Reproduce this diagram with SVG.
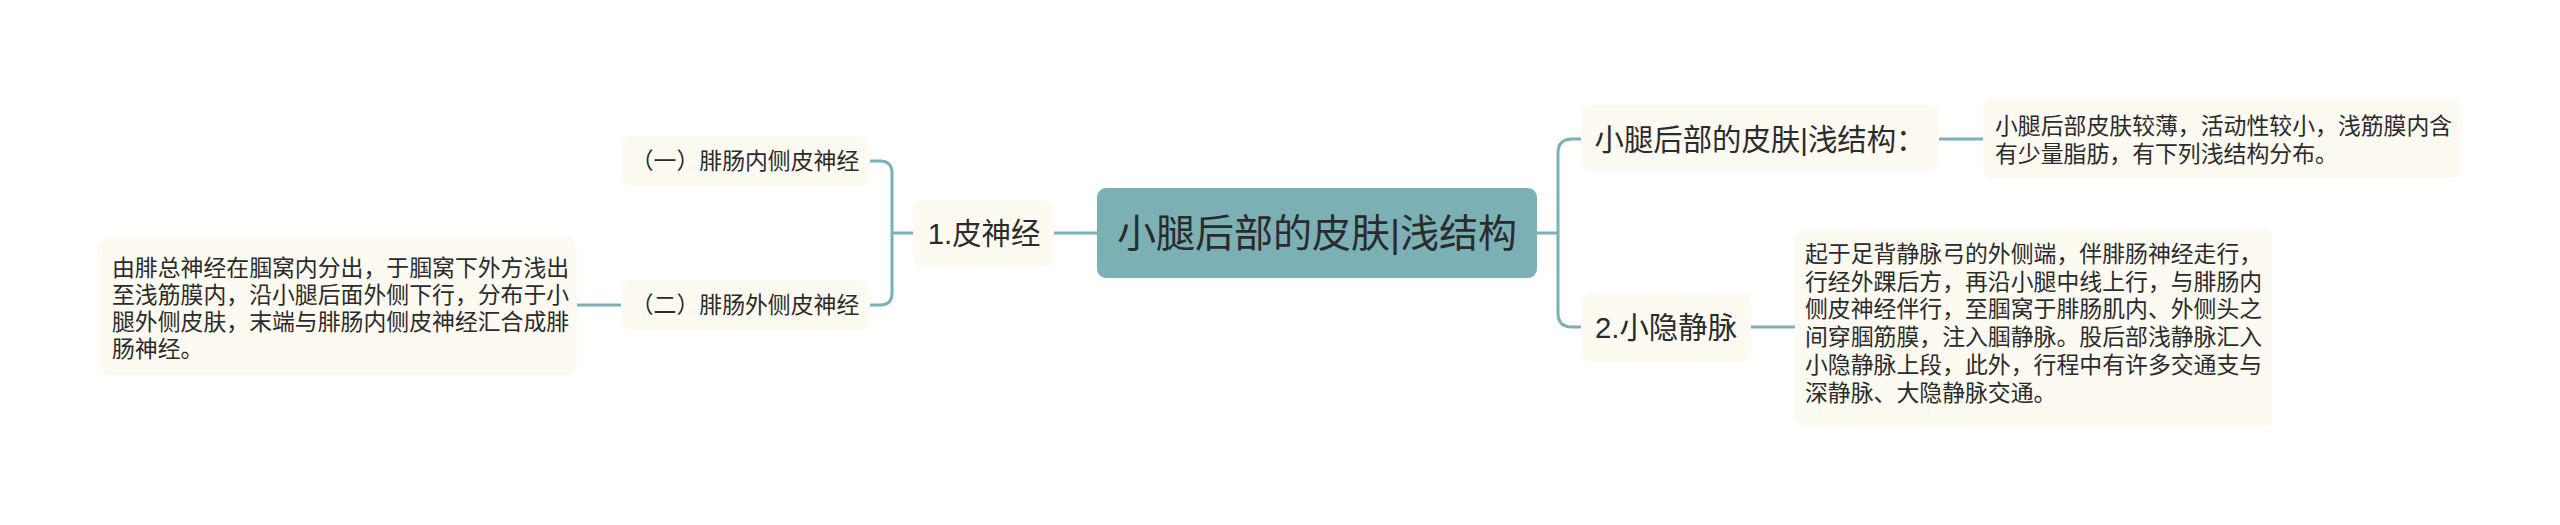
<svg xmlns="http://www.w3.org/2000/svg" width="2560" height="525" viewBox="0 0 2560 525">
<style>
text{font-family:"Liberation Sans","Noto Sans CJK SC",sans-serif;fill:#2b2b2b;dominant-baseline:central}
.box{fill:#fcfaf1}
.root{fill:#7bb1b4}
.l1{font-size:39px;text-anchor:middle}
.l2{font-size:29.4px;text-anchor:middle}
.l3{font-size:22.86px;text-anchor:middle}
.d{font-size:22.86px}
.con path{fill:none;stroke:#7bb1b4;stroke-width:3}
</style>
<rect width="2560" height="525" fill="#ffffff"/>
<g class="con" id="connectors">
<path d="M1097,233 H1054"/>
<path d="M913,233 H892"/>
<path d="M870,161 H880 Q892,161 892,173 V293 Q892,305 880,305 H870"/>
<path d="M621,305 H577"/>
<path d="M1537,233 H1558"/>
<path d="M1581,139 H1572 Q1558,139 1558,153 V313 Q1558,327 1572,327 H1581"/>
<path d="M1939,139 H1983"/>
<path d="M1751,327 H1795"/>
</g>
<g id="root">
<rect class="root" x="1097" y="188" width="440" height="90" rx="9"/>
<text class="l1" x="1317" y="233">小腿后部的皮肤|浅结构</text>
</g>
<g id="n-pishenjing">
<rect class="box" x="913" y="200" width="141" height="67" rx="10"/>
<text class="l2" x="984" y="233">1.皮神经</text>
</g>
<g id="n-neice">
<rect class="box" x="621" y="136" width="249" height="50" rx="10"/>
<text class="l3" x="745" y="161">（一）腓肠内侧皮神经</text>
</g>
<g id="n-waice">
<rect class="box" x="621" y="280" width="249" height="50" rx="10"/>
<text class="l3" x="745" y="305">（二）腓肠外侧皮神经</text>
</g>
<g id="n-waice-desc">
<rect class="box" x="98" y="237" width="479" height="138" rx="10"/>
<text class="d" x="112" y="268"><tspan x="112" y="268">由腓总神经在腘窝内分出，于腘窝下外方浅出</tspan><tspan x="112" y="295">至浅筋膜内，沿小腿后面外侧下行，分布于小</tspan><tspan x="112" y="322">腿外侧皮肤，末端与腓肠内侧皮神经汇合成腓</tspan><tspan x="112" y="349">肠神经。</tspan></text>
</g>
<g id="n-pifu">
<rect class="box" x="1581" y="105" width="358" height="67" rx="10"/>
<text class="l2" x="1760" y="139">小腿后部的皮肤|浅结构：</text>
</g>
<g id="n-pifu-desc">
<rect class="box" x="1983" y="98" width="479" height="80" rx="10"/>
<text class="d" x="1995" y="126"><tspan x="1995" y="126">小腿后部皮肤较薄，活动性较小，浅筋膜内含</tspan><tspan x="1995" y="154">有少量脂肪，有下列浅结构分布。</tspan></text>
</g>
<g id="n-xiaoyin">
<rect class="box" x="1581" y="293" width="170" height="69" rx="10"/>
<text class="l2" x="1666" y="327">2.小隐静脉</text>
</g>
<g id="n-xiaoyin-desc">
<rect class="box" x="1795" y="229" width="477" height="198" rx="10"/>
<text class="d" x="1805" y="254"><tspan x="1805" y="254">起于足背静脉弓的外侧端，伴腓肠神经走行，</tspan><tspan x="1805" y="282">行经外踝后方，再沿小腿中线上行，与腓肠内</tspan><tspan x="1805" y="309">侧皮神经伴行，至腘窝于腓肠肌内、外侧头之</tspan><tspan x="1805" y="337">间穿腘筋膜，注入腘静脉。股后部浅静脉汇入</tspan><tspan x="1805" y="365">小隐静脉上段，此外，行程中有许多交通支与</tspan><tspan x="1805" y="393">深静脉、大隐静脉交通。</tspan></text>
</g>
</svg>
